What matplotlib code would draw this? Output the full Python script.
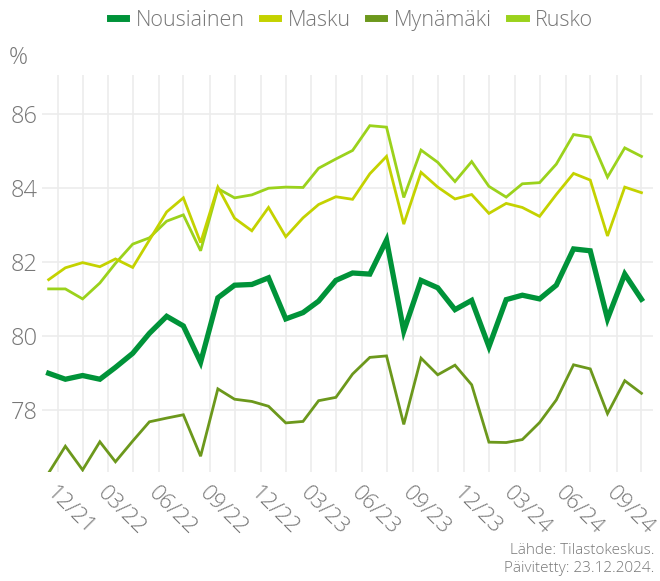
import pandas as pd
import numpy as np
import matplotlib
matplotlib.use("Agg")
import matplotlib.pyplot as plt
import matplotlib.dates as mdates

plt.rcParams["font.family"] = ["Open Sans", "DejaVu Sans"]
plt.rcParams["font.weight"] = "light"

# monthly data 11/2021 - 10/2024
months = pd.date_range("2021-11-01", periods=36, freq="MS") + pd.Timedelta(days=14)

nousiainen = [79.00, 78.84, 78.94, 78.84, 79.16, 79.54, 80.08, 80.54, 80.28, 79.30,
              81.04, 81.38, 81.40, 81.58, 80.47, 80.64, 80.95, 81.51, 81.71, 81.68,
              82.60, 80.14, 81.51, 81.31, 80.72, 80.97, 79.72, 80.99, 81.11, 81.01,
              81.38, 82.36, 82.31, 80.47, 81.68, 81.00]
masku = [81.53, 81.85, 81.99, 81.88, 82.09, 81.86, 82.60, 83.36, 83.74, 82.53,
         84.03, 83.19, 82.85, 83.48, 82.69, 83.20, 83.56, 83.77, 83.70, 84.39,
         84.86, 83.03, 84.43, 84.03, 83.71, 83.83, 83.32, 83.59, 83.48, 83.24,
         83.83, 84.40, 84.22, 82.71, 84.03, 83.88]
mynamaki = [76.31, 77.03, 76.39, 77.15, 76.61, 77.17, 77.69, 77.79, 77.88, 76.76,
            78.58, 78.30, 78.24, 78.11, 77.66, 77.70, 78.26, 78.35, 78.98, 79.43,
            79.47, 77.62, 79.41, 78.96, 79.22, 78.69, 77.14, 77.13, 77.21, 77.67,
            78.28, 79.23, 79.12, 77.91, 78.80, 78.46]
rusko = [81.28, 81.28, 81.01, 81.44, 81.97, 82.49, 82.66, 83.11, 83.28, 82.31,
         83.99, 83.74, 83.82, 84.00, 84.03, 84.02, 84.54, 84.79, 85.02, 85.69,
         85.65, 83.75, 85.03, 84.70, 84.18, 84.72, 84.05, 83.76, 84.12, 84.15,
         84.65, 85.45, 85.38, 84.30, 85.09, 84.86]

series = ["Nousiainen", "Masku", "Mynämäki", "Rusko"]
values = [nousiainen, masku, mynamaki, rusko]
colors = ["#009339", "#c4d200", "#6c981c", "#9bd21c"]
widths = [3.8, 2.0, 2.0, 2.0]

grey = "#777777"

fig = plt.figure(figsize=(6.6, 5.81), dpi=100)
ax = fig.add_axes([0.0636, 0.188, 0.926, 0.683])

# thick line on top
for i in [2, 3, 1, 0]:
    ax.plot(months, values[i], color=colors[i], lw=widths[i], label=series[i],
            solid_joinstyle="miter", zorder=3 + (i == 0))

major = pd.date_range("2021-12-01", "2024-09-01", freq="3MS")
minor = months[2::3]
ax.set_xticks(major)
ax.set_xticks(minor, minor=True)
ax.xaxis.set_major_formatter(mdates.DateFormatter("%m/%y"))
ax.set_xlim(months[0] - pd.Timedelta(days=12), months[-1] + pd.Timedelta(days=21))
ax.set_ylim(76.34, 87.06)
ax.set_yticks([78, 80, 82, 84, 86])

ax.grid(True, which="both", axis="x", color="#ececec", lw=1.2)
ax.grid(True, which="major", axis="y", color="#ececec", lw=1.2)
ax.set_axisbelow(True)
for s in ax.spines.values():
    s.set_visible(False)
ax.tick_params(which="both", length=0)
ax.tick_params(axis="y", labelsize=17, labelcolor=grey, pad=3)
ax.tick_params(axis="x", labelsize=16, labelcolor=grey, pad=8)
for lab in ax.get_xticklabels():
    lab.set_rotation(-45)
    lab.set_ha("left")
    lab.set_va("top")
    lab.set_rotation_mode("anchor")

fig.text(0.013, 0.9, "%", fontsize=17, color=grey, ha="left", va="center")

handles, labels = ax.get_legend_handles_labels()
order = [labels.index(s) for s in series]
leg = fig.legend([handles[k] for k in order], series, loc="center", ncol=4,
                 bbox_to_anchor=(0.533, 0.965), frameon=False, fontsize=15.5,
                 handlelength=0.75, handletextpad=0.45, columnspacing=0.8)
for t in leg.get_texts():
    t.set_color(grey)
for h in leg.get_lines():
    h.set_linewidth(5)

fig.text(0.992, 0.037, "Lähde: Tilastokeskus.\nPäivitetty: 23.12.2024.",
         fontsize=11, color=grey, ha="right", va="center", linespacing=1.3)

fig.savefig("out.png", dpi=100)
